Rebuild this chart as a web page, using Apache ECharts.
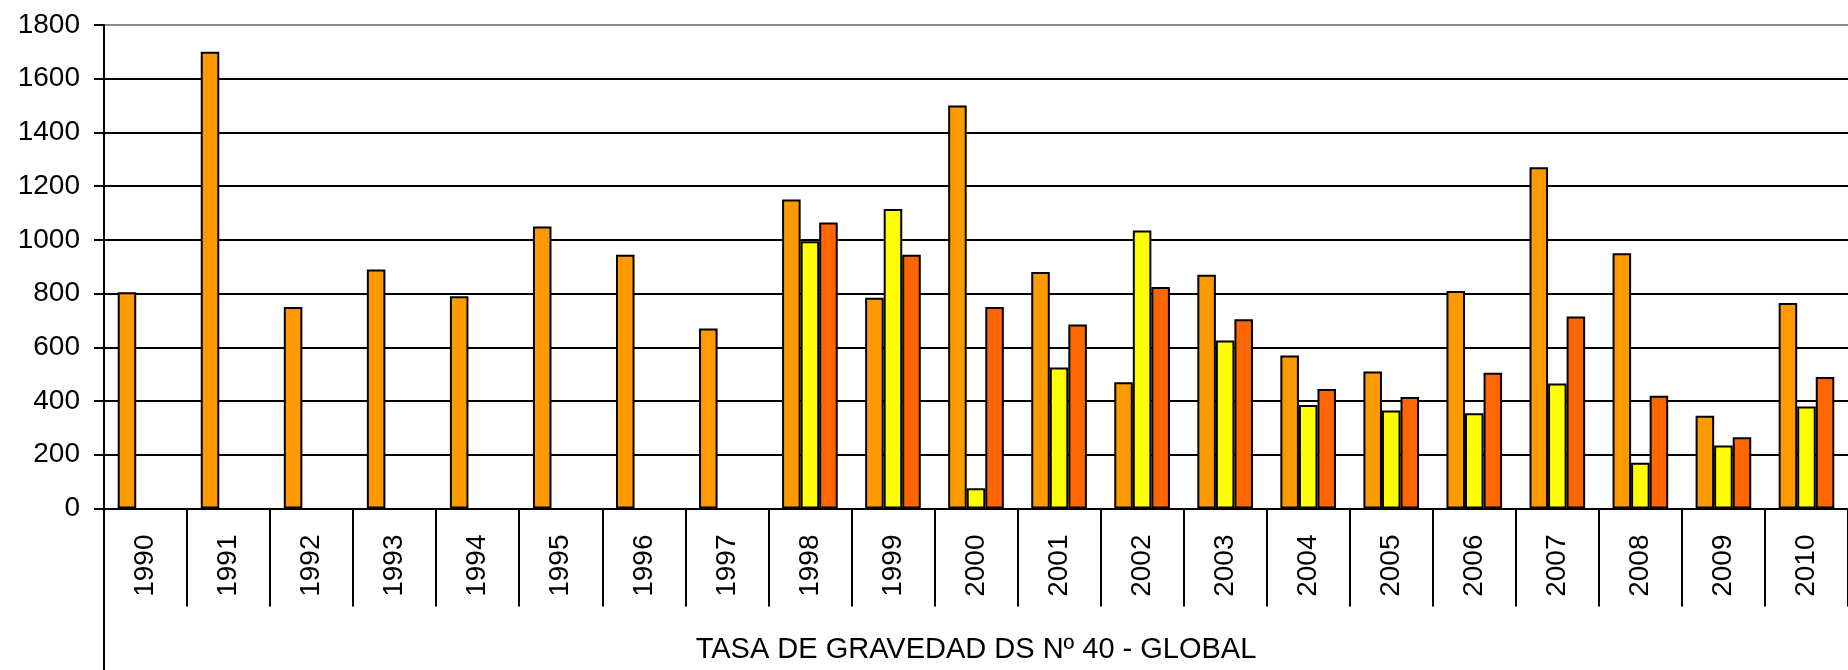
<!DOCTYPE html>
<html>
<head>
<meta charset="utf-8">
<script src="https://cdn.jsdelivr.net/npm/echarts@6/dist/echarts.min.js"></script>
<style>
html,body{margin:0;padding:0;background:#fff;}
#chart{width:1848px;height:670px;}
</style>
</head>
<body>
<div id="chart"></div>
<script>
const categories = ['1990','1991','1992','1993','1994','1995','1996','1997','1998','1999','2000','2001','2002','2003','2004','2005','2006','2007','2008','2009','2010'];
const seriesA = [805, 1700, 750, 890, 790, 1050, 945, 670, 1150, 785, 1500, 880, 470, 870, 570, 510, 810, 1270, 950, 345, 765];
const seriesB = [null, null, null, null, null, null, null, null, 995, 1115, 75, 525, 1035, 625, 385, 365, 355, 465, 170, 235, 380];
const seriesC = [null, null, null, null, null, null, null, null, 1065, 945, 750, 685, 825, 705, 445, 415, 505, 715, 420, 265, 490];
const yTicks = {min: 0, max: 1800, interval: 200};
const axisTitle = 'TASA DE GRAVEDAD DS Nº 40 - GLOBAL';

const chart = echarts.init(document.getElementById('chart'), null, {renderer: 'canvas'});
const FONT = '"Liberation Sans", Arial, sans-serif';
const barStyle = (c) => ({color: c, borderColor: '#000', borderWidth: 2});
const gridColors = ['#000','#000','#000','#000','#000','#000','#000','#000','#000','#8a8a8a'];

chart.setOption({
  animation: false,
  backgroundColor: '#fff',
  grid: {left: 104, right: -5, top: 25, bottom: 161.5, containLabel: false},
  xAxis: {
    type: 'category',
    data: categories,
    boundaryGap: true,
    axisLine: {show: true, lineStyle: {color: '#000', width: 2}},
    axisTick: {show: true, interval: 0, alignWithLabel: false, length: 98, lineStyle: {color: '#000', width: 2}},
    axisLabel: {interval: 0, rotate: 90, margin: 26, fontSize: 28, color: '#000', fontFamily: FONT},
    splitLine: {show: false},
    name: axisTitle,
    nameLocation: 'middle',
    nameGap: 127,
    nameTextStyle: {fontSize: 29, color: '#000', fontFamily: FONT}
  },
  yAxis: {
    type: 'value',
    min: yTicks.min, max: yTicks.max, interval: yTicks.interval,
    axisLine: {show: true, lineStyle: {color: '#000', width: 2}},
    axisTick: {show: true, length: 10, lineStyle: {color: '#000', width: 2}},
    axisLabel: {margin: 24, fontSize: 28, color: '#000', fontFamily: FONT, formatter: (v) => String(v)},
    splitLine: {show: true, lineStyle: {color: gridColors, width: 2}}
  },
  graphic: [{
    type: 'line',
    shape: {x1: 104, y1: 508, x2: 104, y2: 670},
    style: {stroke: '#000', lineWidth: 2},
    silent: true
  }],
  series: [
    {type: 'bar', data: seriesA, barGap: '0%', barCategoryGap: '33%', itemStyle: barStyle('#FF9900'), emphasis: {disabled: true}},
    {type: 'bar', data: seriesB, barGap: '0%', barCategoryGap: '33%', itemStyle: barStyle('#FFFF00'), emphasis: {disabled: true}},
    {type: 'bar', data: seriesC, barGap: '0%', barCategoryGap: '33%', itemStyle: barStyle('#FF6600'), emphasis: {disabled: true}}
  ]
});
</script>
</body>
</html>
